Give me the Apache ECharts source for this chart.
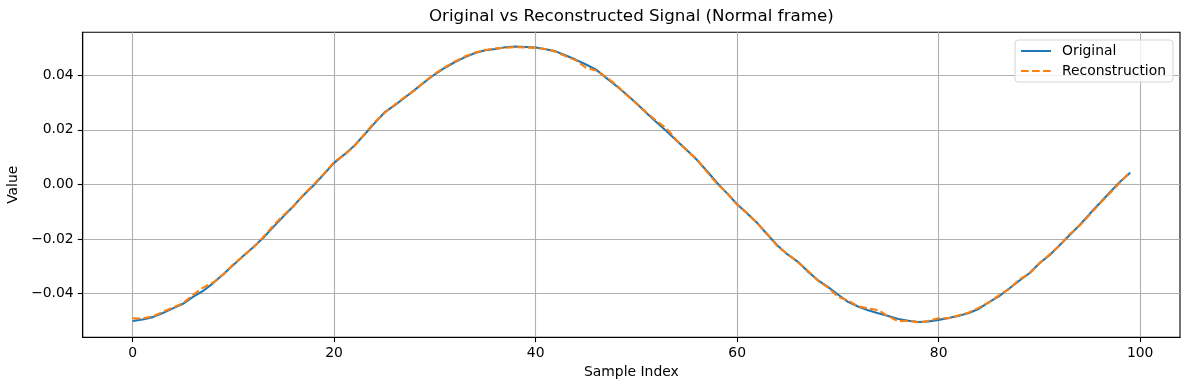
<!DOCTYPE html>
<html>
<head>
<meta charset="utf-8">
<script src="https://cdn.jsdelivr.net/npm/echarts@6/dist/echarts.min.js"></script>
<style>
html,body{margin:0;padding:0;background:#fff;}
#chart{width:1189px;height:390px;}
</style>
</head>
<body>
<div id="chart"></div>
<script>
const titleText = 'Original vs Reconstructed Signal (Normal frame)';
const xAxisLabel = 'Sample Index';
const yAxisLabel = 'Value';
const xTicks = [0, 20, 40, 60, 80, 100];
const yTicks = [-0.04, -0.02, 0.00, 0.02, 0.04];

const original = [
 -0.0501,-0.0496,-0.0487,-0.0472,-0.0455,-0.0438,-0.0413,-0.0391,-0.0362,-0.0330,
 -0.0296,-0.0262,-0.0230,-0.0195,-0.0155,-0.0116,-0.0078,-0.0038,-0.0002,0.0038,
 0.0079,0.0109,0.0142,0.0182,0.0224,0.0264,0.0290,0.0318,0.0347,0.0376,
 0.0404,0.0428,0.0449,0.0467,0.0482,0.0492,0.0497,0.0503,0.0506,0.0504,
 0.0502,0.0496,0.0488,0.0473,0.0457,0.0440,0.0421,0.0391,0.0362,0.0331,
 0.0298,0.0262,0.0228,0.0195,0.0160,0.0126,0.0090,0.0049,0.0006,-0.0033,
 -0.0073,-0.0107,-0.0142,-0.0184,-0.0224,-0.0257,-0.0283,-0.0319,-0.0351,-0.0376,
 -0.0404,-0.0431,-0.0448,-0.0462,-0.0473,-0.0483,-0.0494,-0.0500,-0.0505,-0.0503,
 -0.0497,-0.0490,-0.0482,-0.0472,-0.0456,-0.0432,-0.0410,-0.0382,-0.0353,-0.0326,
 -0.0289,-0.0260,-0.0223,-0.0186,-0.0149,-0.0108,-0.0068,-0.0029,0.0010,0.0043
];
const reconstruction = [
 -0.0491,-0.0492,-0.0484,-0.0468,-0.0452,-0.0436,-0.0405,-0.0379,-0.0360,-0.0331,
 -0.0293,-0.0263,-0.0232,-0.0192,-0.0150,-0.0112,-0.0080,-0.0036,0.0000,0.0040,
 0.0082,0.0107,0.0140,0.0184,0.0227,0.0262,0.0292,0.0320,0.0345,0.0378,
 0.0406,0.0430,0.0451,0.0470,0.0484,0.0493,0.0499,0.0501,0.0504,0.0502,
 0.0501,0.0497,0.0487,0.0470,0.0455,0.0428,0.0418,0.0394,0.0365,0.0329,
 0.0296,0.0264,0.0233,0.0205,0.0162,0.0124,0.0093,0.0046,0.0002,-0.0031,
 -0.0075,-0.0105,-0.0143,-0.0182,-0.0227,-0.0255,-0.0285,-0.0316,-0.0353,-0.0378,
 -0.0412,-0.0426,-0.0447,-0.0455,-0.0461,-0.0484,-0.0502,-0.0500,-0.0507,-0.0500,
 -0.0491,-0.0491,-0.0480,-0.0470,-0.0452,-0.0433,-0.0406,-0.0384,-0.0349,-0.0328,
 -0.0290,-0.0257,-0.0225,-0.0183,-0.0151,-0.0111,-0.0070,-0.0032,0.0007,0.0046
];

const FONT = 'DejaVu Sans';
const FS = 13.9;
const pairs = arr => arr.map((v, i) => [i, v]);
const minus = s => String(s).replace('-', '\u2212');

const chart = echarts.init(document.getElementById('chart'), null, {renderer: 'canvas'});
const gridLeft = 82.7, gridRight = 9, gridTop = 32.3, gridBottom = 52.7;
const axesCenterX = gridLeft + (1189 - gridLeft - gridRight) / 2;

chart.setOption({
  animation: false,
  backgroundColor: '#ffffff',
  graphic: [{
    type: 'text', x: axesCenterX, y: 17,
    style: {text: titleText, textAlign: 'center', textVerticalAlign: 'middle',
            font: '16.7px "DejaVu Sans"', fill: '#000'}
  }],
  grid: {left: gridLeft, right: gridRight, top: gridTop, bottom: gridBottom,
         outerBoundsMode: 'none', containLabel: false,
         show: true, borderColor: '#000', borderWidth: 1.1, backgroundColor: 'transparent'},
  legend: {
    orient: 'vertical', right: 16, top: 40,
    padding: [4, 7, 4, 5], itemGap: 6, itemWidth: 30, itemHeight: 14,
    borderColor: '#d5d5d5', borderWidth: 1, borderRadius: 3,
    backgroundColor: 'rgba(255,255,255,0.8)',
    itemStyle: {opacity: 0},
    textStyle: {fontFamily: FONT, fontSize: FS, color: '#000', padding: [0, 0, 0, 6]},
    data: ['Original', 'Reconstruction']
  },
  xAxis: {
    type: 'value', min: -4.95, max: 103.95,
    name: xAxisLabel, nameLocation: 'middle', nameGap: 28,
    nameTextStyle: {fontFamily: FONT, fontSize: FS, color: '#000'},
    axisLine: {show: true, onZero: false, lineStyle: {color: '#000', width: 1.1}},
    axisTick: {show: true, customValues: xTicks, length: 4.9, lineStyle: {color: '#000', width: 1.1}},
    axisLabel: {customValues: xTicks, margin: 9, fontFamily: FONT, fontSize: FS, color: '#000',
                formatter: v => minus(v)},
    splitLine: {show: true, customValues: xTicks, lineStyle: {color: '#b0b0b0', width: 1.1}}
  },
  yAxis: {
    type: 'value', min: -0.0561, max: 0.0558,
    name: yAxisLabel, nameLocation: 'middle', nameGap: 57, nameRotate: 90,
    nameTextStyle: {fontFamily: FONT, fontSize: FS, color: '#000'},
    axisLine: {show: true, onZero: false, lineStyle: {color: '#000', width: 1.1}},
    axisTick: {show: true, customValues: yTicks, length: 4.9, lineStyle: {color: '#000', width: 1.1}},
    axisLabel: {customValues: yTicks, margin: 9, fontFamily: FONT, fontSize: FS, color: '#000',
                formatter: v => minus(Number(v).toFixed(2))},
    splitLine: {show: true, customValues: yTicks, lineStyle: {color: '#b0b0b0', width: 1.1}}
  },
  series: [
    {name: 'Original', type: 'line', data: pairs(original), showSymbol: false, symbol: 'none',
     color: '#1f77b4', lineStyle: {color: '#1f77b4', width: 2.08}, z: 2},
    {name: 'Reconstruction', type: 'line', data: pairs(reconstruction), showSymbol: false, symbol: 'none',
     color: '#ff7f0e', lineStyle: {color: '#ff7f0e', width: 2.08, type: [7.7, 3.3]}, z: 3}
  ]
});
</script>
</body>
</html>
